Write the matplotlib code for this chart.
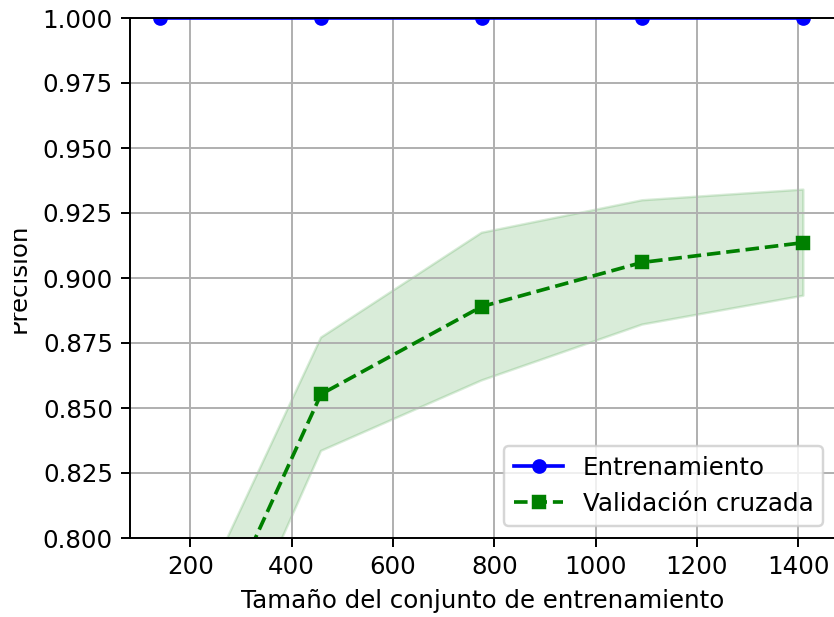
import numpy as np
import matplotlib
matplotlib.use("Agg")
import matplotlib.pyplot as plt
from matplotlib.patches import Rectangle

# curva de aprendizaje: tamaños de entrenamiento y precisiones medias / desviaciones
train_sizes = np.array([141, 458, 775, 1092, 1410])
train_mean = np.array([1.0, 1.0, 1.0, 1.0, 1.0])
train_std = np.array([0.0, 0.0, 0.0, 0.0, 0.0])
test_mean = np.array([0.720, 0.8553, 0.8890, 0.9060, 0.9136])
test_std = np.array([0.025, 0.0218, 0.0284, 0.0239, 0.0204])

DPI = 176
W, H = 834, 617
fig = plt.figure(figsize=(W / DPI, H / DPI), dpi=DPI)
ax = fig.add_axes([130 / W, 79 / H, 705.3 / W, 520 / H])

ax.plot(train_sizes, train_mean, color='blue', marker='o', markersize=5,
        label='Entrenamiento')
ax.fill_between(train_sizes, train_mean + train_std, train_mean - train_std,
                alpha=0.15, color='blue')

ax.plot(train_sizes, test_mean, color='green', linestyle='--', marker='s',
        markersize=5, label='Validación cruzada')
ax.fill_between(train_sizes, test_mean + test_std, test_mean - test_std,
                alpha=0.15, color='green')

ax.grid()
ax.set_xlabel('Tamaño del conjunto de entrenamiento')
ax.set_ylabel('Precisión')
ax.yaxis.label.set_va('baseline')
ax.yaxis.set_label_coords((25.5 - 130) / 705.3, 0.5)
ax.legend(loc='lower right')
ax.set_xlim(81, 1473)
ax.set_ylim(0.8, 1.0)

# borde izquierdo recortado
fig.add_artist(Rectangle((0, 0), 14 / W, 1, transform=fig.transFigure,
                         facecolor='white', edgecolor='none', zorder=10))

fig.savefig('out.png', dpi=DPI)
